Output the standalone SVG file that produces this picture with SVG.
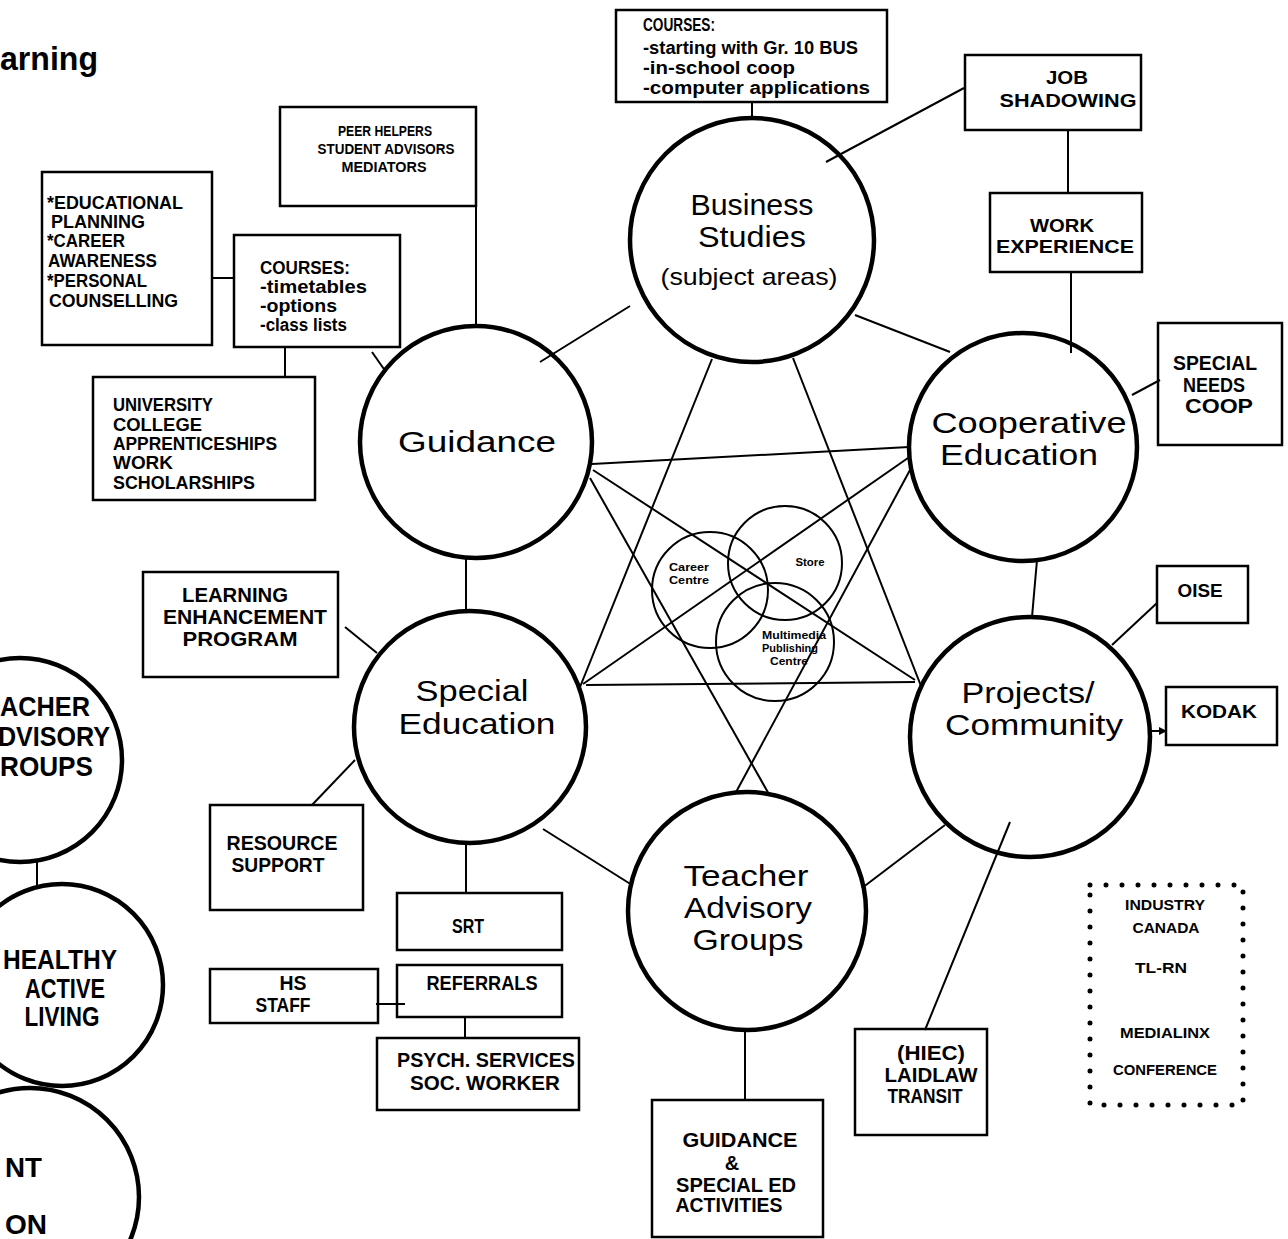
<svg xmlns="http://www.w3.org/2000/svg" width="1288" height="1239" viewBox="0 0 1288 1239">
<defs>
<marker id="ah" markerWidth="8" markerHeight="8" refX="7" refY="4" orient="auto" markerUnits="userSpaceOnUse"><path d="M0,0 L8,4 L0,8 z" fill="#000"/></marker>
</defs>
<style>
.c{fill:none;stroke:#000;stroke-width:4.5}
.b{fill:none;stroke:#000;stroke-width:2.5}
.l{stroke:#000;stroke-width:2;fill:none}
.d{fill:none;stroke:#000;stroke-width:5;stroke-linecap:round;stroke-dasharray:0 16}
text{font-family:"Liberation Sans",Arial,sans-serif;fill:#000}
.ct{font-size:29px;text-anchor:middle}
.bt{font-size:19px;font-weight:bold}
.s14{font-size:14px}
.s15{font-size:15px}
.s18{font-size:18px}
.s20{font-size:20px}
.s21{font-size:21px}
.s24{font-size:24px}
.m{text-anchor:middle}
.e{text-anchor:end}
.v{font-size:10px;font-weight:bold;text-anchor:middle}
.lc{font-size:28px;font-weight:bold}
.ttl{font-size:34px;font-weight:bold;text-anchor:end}
</style>
<rect width="1288" height="1239" fill="#fff"/>

<g id="connectors">
<line class="l" x1="752" y1="102" x2="752" y2="118"/>
<line class="l" x1="826" y1="162" x2="964" y2="88"/>
<line class="l" x1="1068" y1="130" x2="1068" y2="193"/>
<line class="l" x1="1071" y1="272" x2="1071" y2="353"/>
<line class="l" x1="855" y1="315" x2="950" y2="352"/>
<line class="l" x1="630" y1="306" x2="540" y2="362"/>
<line class="l" x1="1132" y1="395" x2="1160" y2="380"/>
<line class="l" x1="1037" y1="560" x2="1032" y2="617"/>
<line class="l" x1="1112" y1="645" x2="1157" y2="603"/>
<line class="l" x1="1150" y1="731" x2="1166" y2="731" marker-end="url(#ah)"/>
<line class="l" x1="476" y1="207" x2="476" y2="327"/>
<line class="l" x1="212" y1="278" x2="234" y2="278"/>
<line class="l" x1="285" y1="347" x2="285" y2="377"/>
<line class="l" x1="372" y1="352" x2="386" y2="372"/>
<line class="l" x1="466" y1="557" x2="466" y2="612"/>
<line class="l" x1="345" y1="627" x2="377" y2="653"/>
<line class="l" x1="312" y1="805" x2="355" y2="760"/>
<line class="l" x1="466" y1="842" x2="466" y2="893"/>
<line class="l" x1="376" y1="1004" x2="405" y2="1004"/>
<line class="l" x1="465" y1="1017" x2="465" y2="1038"/>
<line class="l" x1="543" y1="829" x2="632" y2="885"/>
<line class="l" x1="745" y1="1030" x2="745" y2="1100"/>
<line class="l" x1="862" y1="888" x2="945" y2="825"/>
<line class="l" x1="1010" y1="822" x2="925" y2="1030"/>
<line class="l" x1="712" y1="359" x2="580" y2="687"/>
<line class="l" x1="793" y1="358" x2="921" y2="686"/>
<line class="l" x1="586" y1="685" x2="915" y2="682"/>
<line class="l" x1="592" y1="464" x2="909" y2="447"/>
<line class="l" x1="590" y1="478" x2="770" y2="796"/>
<line class="l" x1="910" y1="470" x2="735" y2="794"/>
<line class="l" x1="593" y1="470" x2="915" y2="680"/>
<line class="l" x1="908" y1="458" x2="583" y2="684"/>
<line class="l" x1="37" y1="862" x2="37" y2="885"/>
</g>

<g id="title"><text class="ttl" x="98" y="70" textLength="98" lengthAdjust="spacingAndGlyphs">arning</text></g>

<g id="business">
<circle class="c" cx="752" cy="240" r="122"/>
<text class="ct" x="752" y="215" textLength="123" lengthAdjust="spacingAndGlyphs">Business</text>
<text class="ct" x="752" y="247" textLength="108" lengthAdjust="spacingAndGlyphs">Studies</text>
<text class="ct s24" x="749" y="285" textLength="177" lengthAdjust="spacingAndGlyphs">(subject areas)</text>
</g>

<g id="guidance">
<circle class="c" cx="476" cy="442" r="116"/>
<text class="ct" x="477" y="452" textLength="158" lengthAdjust="spacingAndGlyphs">Guidance</text>
</g>

<g id="coop">
<circle class="c" cx="1023" cy="447" r="114"/>
<text class="ct" x="1029" y="433" textLength="195" lengthAdjust="spacingAndGlyphs">Cooperative</text>
<text class="ct" x="1019" y="465" textLength="158" lengthAdjust="spacingAndGlyphs">Education</text>
</g>

<g id="projects">
<circle class="c" cx="1030" cy="737" r="120"/>
<text class="ct" x="1028" y="703" textLength="133" lengthAdjust="spacingAndGlyphs">Projects/</text>
<text class="ct" x="1034" y="735" textLength="178" lengthAdjust="spacingAndGlyphs">Community</text>
</g>

<g id="special-ed">
<circle class="c" cx="470" cy="727" r="116"/>
<text class="ct" x="472" y="701" textLength="113" lengthAdjust="spacingAndGlyphs">Special</text>
<text class="ct" x="477" y="734" textLength="157" lengthAdjust="spacingAndGlyphs">Education</text>
</g>

<g id="teacher">
<circle class="c" cx="747" cy="911" r="119"/>
<text class="ct" x="746" y="886" textLength="125" lengthAdjust="spacingAndGlyphs">Teacher</text>
<text class="ct" x="748" y="918" textLength="128" lengthAdjust="spacingAndGlyphs">Advisory</text>
<text class="ct" x="748" y="950" textLength="111" lengthAdjust="spacingAndGlyphs">Groups</text>
</g>

<g id="venn">
<circle class="l" cx="710" cy="590" r="58"/>
<circle class="l" cx="785" cy="563" r="57"/>
<circle class="l" cx="775" cy="642" r="59"/>
<text class="v" x="689" y="571" textLength="40" lengthAdjust="spacingAndGlyphs">Career</text>
<text class="v" x="689" y="584" textLength="40" lengthAdjust="spacingAndGlyphs">Centre</text>
<text class="v" x="810" y="566" textLength="29" lengthAdjust="spacingAndGlyphs">Store</text>
<text class="v" x="794" y="639" textLength="64" lengthAdjust="spacingAndGlyphs">Multimedia</text>
<text class="v" x="790" y="652" textLength="56" lengthAdjust="spacingAndGlyphs">Publishing</text>
<text class="v" x="789" y="665" textLength="38" lengthAdjust="spacingAndGlyphs">Centre</text>
</g>

<g id="box-business-courses">
<rect class="b" x="616" y="10" width="271" height="92"/>
<text class="bt s18" x="643" y="31" textLength="72" lengthAdjust="spacingAndGlyphs">COURSES:</text>
<text class="bt s18" x="643" y="54" textLength="215" lengthAdjust="spacingAndGlyphs">-starting with Gr. 10 BUS</text>
<text class="bt s18" x="643" y="74" textLength="152" lengthAdjust="spacingAndGlyphs">-in-school coop</text>
<text class="bt s18" x="643" y="94" textLength="227" lengthAdjust="spacingAndGlyphs">-computer applications</text>
</g>

<g id="box-job">
<rect class="b" x="965" y="55" width="176" height="75"/>
<text class="bt m" x="1067" y="84" textLength="42" lengthAdjust="spacingAndGlyphs">JOB</text>
<text class="bt m" x="1068" y="107" textLength="137" lengthAdjust="spacingAndGlyphs">SHADOWING</text>
</g>

<g id="box-work">
<rect class="b" x="990" y="193" width="152" height="79"/>
<text class="bt m" x="1062" y="232" textLength="64" lengthAdjust="spacingAndGlyphs">WORK</text>
<text class="bt m" x="1065" y="253" textLength="138" lengthAdjust="spacingAndGlyphs">EXPERIENCE</text>
</g>

<g id="box-special-needs">
<rect class="b" x="1158" y="323" width="124" height="122"/>
<text class="bt m s20" x="1215" y="370" textLength="84" lengthAdjust="spacingAndGlyphs">SPECIAL</text>
<text class="bt m s20" x="1214" y="392" textLength="62" lengthAdjust="spacingAndGlyphs">NEEDS</text>
<text class="bt m s20" x="1219" y="413" textLength="68" lengthAdjust="spacingAndGlyphs">COOP</text>
</g>

<g id="box-oise">
<rect class="b" x="1157" y="566" width="91" height="57"/>
<text class="bt m" x="1200" y="597" textLength="45" lengthAdjust="spacingAndGlyphs">OISE</text>
</g>

<g id="box-kodak">
<rect class="b" x="1166" y="687" width="111" height="58"/>
<text class="bt m" x="1219" y="718" textLength="76" lengthAdjust="spacingAndGlyphs">KODAK</text>
</g>

<g id="box-peer">
<rect class="b" x="280" y="107" width="196" height="99"/>
<text class="bt m s14" x="385" y="136" textLength="94" lengthAdjust="spacingAndGlyphs">PEER HELPERS</text>
<text class="bt m s14" x="386" y="154" textLength="137" lengthAdjust="spacingAndGlyphs">STUDENT ADVISORS</text>
<text class="bt m s14" x="384" y="172" textLength="85" lengthAdjust="spacingAndGlyphs">MEDIATORS</text>
</g>

<g id="box-educational">
<rect class="b" x="42" y="172" width="170" height="173"/>
<text class="bt s18" x="47" y="209" textLength="136" lengthAdjust="spacingAndGlyphs">*EDUCATIONAL</text>
<text class="bt s18" x="51" y="228" textLength="94" lengthAdjust="spacingAndGlyphs">PLANNING</text>
<text class="bt s18" x="47" y="247" textLength="78" lengthAdjust="spacingAndGlyphs">*CAREER</text>
<text class="bt s18" x="48" y="267" textLength="109" lengthAdjust="spacingAndGlyphs">AWARENESS</text>
<text class="bt s18" x="47" y="287" textLength="100" lengthAdjust="spacingAndGlyphs">*PERSONAL</text>
<text class="bt s18" x="49" y="307" textLength="129" lengthAdjust="spacingAndGlyphs">COUNSELLING</text>
</g>

<g id="box-guidance-courses">
<rect class="b" x="234" y="235" width="166" height="112"/>
<text class="bt s18" x="260" y="274" textLength="90" lengthAdjust="spacingAndGlyphs">COURSES:</text>
<text class="bt s18" x="260" y="293" textLength="107" lengthAdjust="spacingAndGlyphs">-timetables</text>
<text class="bt s18" x="260" y="312" textLength="77" lengthAdjust="spacingAndGlyphs">-options</text>
<text class="bt s18" x="260" y="331" textLength="87" lengthAdjust="spacingAndGlyphs">-class lists</text>
</g>

<g id="box-university">
<rect class="b" x="93" y="377" width="222" height="123"/>
<text class="bt s18" x="113" y="411" textLength="100" lengthAdjust="spacingAndGlyphs">UNIVERSITY</text>
<text class="bt s18" x="113" y="431" textLength="89" lengthAdjust="spacingAndGlyphs">COLLEGE</text>
<text class="bt s18" x="113" y="450" textLength="164" lengthAdjust="spacingAndGlyphs">APPRENTICESHIPS</text>
<text class="bt s18" x="113" y="469" textLength="60" lengthAdjust="spacingAndGlyphs">WORK</text>
<text class="bt s18" x="113" y="489" textLength="142" lengthAdjust="spacingAndGlyphs">SCHOLARSHIPS</text>
</g>

<g id="box-lep">
<rect class="b" x="143" y="572" width="195" height="105"/>
<text class="bt m s20" x="235" y="602" textLength="106" lengthAdjust="spacingAndGlyphs">LEARNING</text>
<text class="bt m s20" x="245" y="624" textLength="164" lengthAdjust="spacingAndGlyphs">ENHANCEMENT</text>
<text class="bt m s20" x="240" y="646" textLength="115" lengthAdjust="spacingAndGlyphs">PROGRAM</text>
</g>

<g id="box-resource">
<rect class="b" x="210" y="805" width="153" height="105"/>
<text class="bt m s20" x="282" y="850" textLength="111" lengthAdjust="spacingAndGlyphs">RESOURCE</text>
<text class="bt m s20" x="278" y="872" textLength="93" lengthAdjust="spacingAndGlyphs">SUPPORT</text>
</g>

<g id="box-srt">
<rect class="b" x="397" y="893" width="165" height="57"/>
<text class="bt m s20" x="468" y="933" textLength="32" lengthAdjust="spacingAndGlyphs">SRT</text>
</g>

<g id="box-referrals">
<rect class="b" x="397" y="965" width="165" height="52"/>
<text class="bt m s20" x="482" y="990" textLength="111" lengthAdjust="spacingAndGlyphs">REFERRALS</text>
</g>

<g id="box-hs-staff">
<rect class="b" x="210" y="969" width="168" height="54"/>
<text class="bt m s20" x="293" y="990" textLength="27" lengthAdjust="spacingAndGlyphs">HS</text>
<text class="bt m s20" x="283" y="1012" textLength="55" lengthAdjust="spacingAndGlyphs">STAFF</text>
</g>

<g id="box-psych">
<rect class="b" x="377" y="1038" width="202" height="72"/>
<text class="bt m s21" x="486" y="1067" textLength="178" lengthAdjust="spacingAndGlyphs">PSYCH. SERVICES</text>
<text class="bt m s21" x="485" y="1090" textLength="150" lengthAdjust="spacingAndGlyphs">SOC. WORKER</text>
</g>

<g id="box-guidance-special">
<rect class="b" x="652" y="1100" width="171" height="137"/>
<text class="bt m s20" x="740" y="1147" textLength="115" lengthAdjust="spacingAndGlyphs">GUIDANCE</text>
<text class="bt m s20" x="732" y="1170">&amp;</text>
<text class="bt m s20" x="736" y="1192" textLength="120" lengthAdjust="spacingAndGlyphs">SPECIAL ED</text>
<text class="bt m s20" x="729" y="1212" textLength="107" lengthAdjust="spacingAndGlyphs">ACTIVITIES</text>
</g>

<g id="box-hiec">
<rect class="b" x="855" y="1029" width="132" height="106"/>
<text class="bt m s20" x="931" y="1060" textLength="68" lengthAdjust="spacingAndGlyphs">(HIEC)</text>
<text class="bt m s20" x="931" y="1082" textLength="93" lengthAdjust="spacingAndGlyphs">LAIDLAW</text>
<text class="bt m s20" x="925" y="1103" textLength="75" lengthAdjust="spacingAndGlyphs">TRANSIT</text>
</g>

<g id="box-industry">
<rect class="d" x="1090" y="885" width="153" height="220"/>
<text class="bt m s15" x="1165" y="910" textLength="80" lengthAdjust="spacingAndGlyphs">INDUSTRY</text>
<text class="bt m s15" x="1166" y="933" textLength="67" lengthAdjust="spacingAndGlyphs">CANADA</text>
<text class="bt m s15" x="1161" y="973" textLength="52" lengthAdjust="spacingAndGlyphs">TL-RN</text>
<text class="bt m s15" x="1165" y="1038" textLength="90" lengthAdjust="spacingAndGlyphs">MEDIALINX</text>
<text class="bt m s15" x="1165" y="1075" textLength="104" lengthAdjust="spacingAndGlyphs">CONFERENCE</text>
</g>

<g id="left-teacher">
<circle class="c" cx="20" cy="760" r="102"/>
<text class="lc e" x="90" y="716" textLength="90" lengthAdjust="spacingAndGlyphs">ACHER</text>
<text class="lc e" x="110" y="746" textLength="112" lengthAdjust="spacingAndGlyphs">DVISORY</text>
<text class="lc e" x="93" y="776" textLength="93" lengthAdjust="spacingAndGlyphs">ROUPS</text>
</g>

<g id="left-healthy">
<circle class="c" cx="62" cy="985" r="101"/>
<text class="lc m" x="60" y="969" textLength="114" lengthAdjust="spacingAndGlyphs">HEALTHY</text>
<text class="lc m" x="65" y="998" textLength="80" lengthAdjust="spacingAndGlyphs">ACTIVE</text>
<text class="lc m" x="62" y="1026" textLength="75" lengthAdjust="spacingAndGlyphs">LIVING</text>
</g>

<g id="left-third">
<circle class="c" cx="30" cy="1197" r="109"/>
<text class="lc e" x="42" y="1177" textLength="37" lengthAdjust="spacingAndGlyphs">NT</text>
<text class="lc e" x="47" y="1234" textLength="42" lengthAdjust="spacingAndGlyphs">ON</text>
</g>
</svg>
